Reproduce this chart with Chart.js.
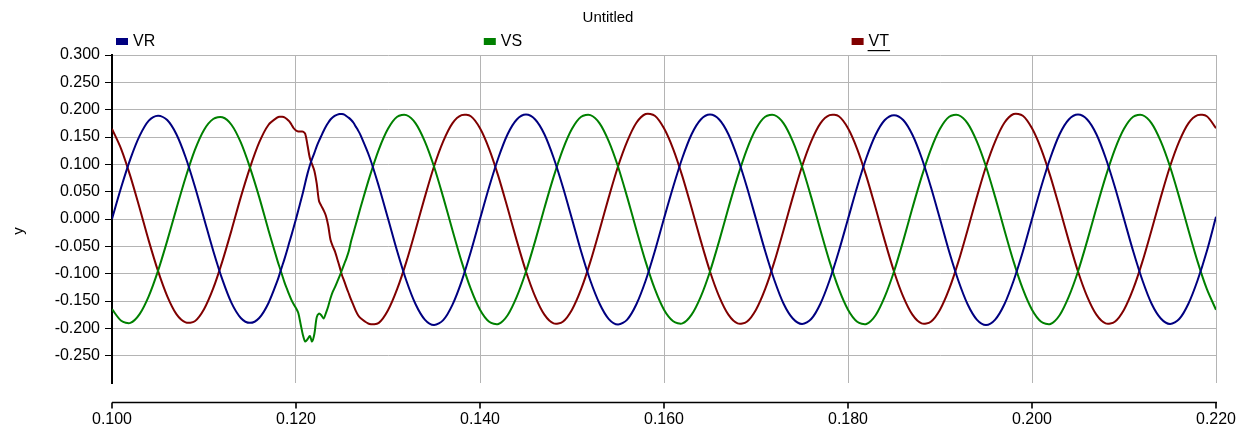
<!DOCTYPE html>
<html>
<head>
<meta charset="utf-8">
<script src="https://cdn.jsdelivr.net/npm/chart.js@4.4.1/dist/chart.umd.min.js"></script>
<style>
html,body{margin:0;padding:0;background:#fff;}
#wrap{width:1236px;height:427px;}
</style>
</head>
<body>
<div id="wrap"><canvas id="c" width="1236" height="427"></canvas></div>
<script>
// ---- data (time in seconds) ----
const times = [
0.100,0.101,0.102,0.103,0.104,0.105,0.106,0.107,0.108,0.109,0.110,0.111,0.112,0.113,0.114,0.115,0.116,0.117,
0.118,0.11825,0.1185,0.11875,0.119,0.11925,0.1195,0.11975,0.120,0.12025,0.1205,0.12075,0.121,0.12125,0.1215,0.12175,0.122,0.12225,0.1225,0.12275,0.123,0.12325,0.1235,0.12375,0.124,0.12425,0.1245,0.12475,0.125,0.12525,0.1255,0.12575,0.126,0.12625,0.1265,0.12675,0.127,
0.128,0.129,0.130,0.131,0.132,0.133,0.134,0.135,0.136,0.137,0.138,0.139,0.140,0.141,0.142,0.143,0.144,0.145,0.146,0.147,0.148,0.149,
0.150,0.151,0.152,0.153,0.154,0.155,0.156,0.157,0.158,0.159,0.160,0.161,0.162,0.163,0.164,0.165,0.166,0.167,0.168,0.169,
0.170,0.171,0.172,0.173,0.174,0.175,0.176,0.177,0.178,0.179,0.180,0.181,0.182,0.183,0.184,0.185,0.186,0.187,0.188,0.189,
0.190,0.191,0.192,0.193,0.194,0.195,0.196,0.197,0.198,0.199,0.200,0.201,0.202,0.203,0.204,0.205,0.206,0.207,0.208,0.209,
0.210,0.211,0.212,0.213,0.214,0.215,0.216,0.217,0.218,0.219,0.220
];

const vr = [
0.000,0.058,0.110,0.152,0.180,0.189,0.181,0.155,0.113,0.060,0.001,-0.058,-0.111,-0.154,-0.181,-0.190,-0.181,-0.154,
-0.112,-0.099,-0.086,-0.073,-0.059,-0.044,-0.030,-0.015,0.000,0.016,0.032,0.048,0.066,0.083,0.098,0.110,0.121,0.133,0.143,0.152,0.161,0.169,0.176,0.182,0.186,0.189,0.191,0.192,0.192,0.191,0.188,0.185,0.181,0.176,0.169,0.162,0.154,
0.113,0.060,0.001,-0.059,-0.113,-0.156,-0.184,-0.194,-0.185,-0.157,-0.114,-0.060,0.000,0.059,0.112,0.155,0.182,0.191,0.182,0.155,0.112,0.059,
0.000,-0.060,-0.113,-0.155,-0.183,-0.193,-0.184,-0.156,-0.113,-0.059,0.001,0.059,0.112,0.155,0.182,0.191,0.182,0.155,0.112,0.059,
0.000,-0.059,-0.112,-0.155,-0.182,-0.192,-0.183,-0.155,-0.112,-0.059,0.000,0.059,0.112,0.154,0.181,0.190,0.181,0.154,0.112,0.059,
0.000,-0.060,-0.113,-0.156,-0.184,-0.194,-0.184,-0.156,-0.113,-0.060,0.000,0.059,0.112,0.155,0.182,0.191,0.182,0.155,0.112,0.059,
0.000,-0.059,-0.112,-0.155,-0.182,-0.192,-0.183,-0.155,-0.112,-0.059,0.004
];

const vs = [
-0.165,-0.186,-0.190,-0.174,-0.141,-0.095,-0.040,0.019,0.076,0.126,0.163,0.183,0.186,0.172,0.140,0.094,0.040,-0.020,
-0.077,-0.090,-0.103,-0.116,-0.127,-0.138,-0.148,-0.156,-0.163,-0.172,-0.192,-0.212,-0.224,-0.220,-0.214,-0.224,-0.210,-0.180,-0.173,-0.176,-0.182,-0.172,-0.160,-0.145,-0.133,-0.124,-0.114,-0.104,-0.093,-0.082,-0.071,-0.058,-0.040,-0.025,-0.010,0.005,0.020,
0.077,0.127,0.165,0.187,0.190,0.175,0.142,0.096,0.040,-0.020,-0.078,-0.128,-0.166,-0.188,-0.192,-0.176,-0.142,-0.096,-0.040,0.020,0.077,0.127,
0.165,0.187,0.190,0.175,0.142,0.096,0.040,-0.020,-0.078,-0.128,-0.166,-0.187,-0.191,-0.175,-0.142,-0.096,-0.040,0.020,0.077,0.127,
0.165,0.187,0.190,0.175,0.142,0.096,0.040,-0.020,-0.078,-0.128,-0.166,-0.188,-0.192,-0.176,-0.142,-0.096,-0.040,0.020,0.077,0.127,
0.165,0.187,0.190,0.175,0.142,0.096,0.040,-0.020,-0.078,-0.128,-0.166,-0.188,-0.192,-0.176,-0.142,-0.096,-0.040,0.020,0.077,0.127,
0.165,0.187,0.190,0.175,0.142,0.096,0.040,-0.020,-0.078,-0.128,-0.166
];

const vt = [
0.165,0.128,0.078,0.020,-0.040,-0.095,-0.141,-0.174,-0.189,-0.187,-0.165,-0.127,-0.077,-0.020,0.040,0.094,0.140,0.172,
0.186,0.187,0.187,0.186,0.183,0.179,0.173,0.166,0.162,0.160,0.160,0.160,0.156,0.135,0.112,0.100,0.088,0.065,0.033,0.024,0.016,0.006,-0.012,-0.038,-0.050,-0.060,-0.074,-0.088,-0.103,-0.114,-0.126,-0.137,-0.148,-0.158,-0.168,-0.176,-0.181,
-0.192,-0.190,-0.167,-0.128,-0.078,-0.020,0.040,0.096,0.142,0.175,0.190,0.188,0.166,0.128,0.078,0.020,-0.040,-0.096,-0.142,-0.175,-0.191,-0.188,
-0.166,-0.128,-0.078,-0.020,0.040,0.096,0.142,0.176,0.192,0.189,0.166,0.128,0.078,0.020,-0.040,-0.096,-0.142,-0.175,-0.191,-0.188,
-0.166,-0.128,-0.078,-0.020,0.040,0.096,0.142,0.175,0.190,0.188,0.166,0.128,0.078,0.020,-0.040,-0.096,-0.142,-0.175,-0.191,-0.188,
-0.166,-0.128,-0.078,-0.020,0.040,0.096,0.142,0.176,0.192,0.189,0.166,0.128,0.078,0.020,-0.040,-0.096,-0.142,-0.175,-0.191,-0.188,
-0.166,-0.128,-0.078,-0.020,0.040,0.096,0.142,0.175,0.190,0.188,0.166
];

const seriesNames = ['VR', 'VS', 'VT'];
const seriesColors = ['#000080', '#008000', '#800000'];
const chartTitle = 'Untitled';
const yAxisTitle = 'y';
const xMin = 0.100, xMax = 0.220, xStep = 0.020;
const yMin = -0.300, yMax = 0.300, yStep = 0.050;

// ---- chart ----
const FONT = '"Liberation Sans", Arial, sans-serif';
Chart.defaults.font.family = FONT;
Chart.defaults.color = '#000';

const GRID = '#b4b4b4';
const CLEAR = 'rgba(0,0,0,0)';

const decor = {
  id: 'decor',
  afterDraw(chart) {
    const { ctx, chartArea: a, scales: { x } } = chart;
    ctx.save();
    // detached x axis line with ticks
    const axY = a.bottom + 19.5;
    ctx.strokeStyle = '#000';
    ctx.lineWidth = 1.6;
    ctx.beginPath();
    ctx.moveTo(x.left, axY);
    ctx.lineTo(x.right + 1, axY);
    x.ticks.forEach(t => {
      const px = Math.round(x.getPixelForValue(t.value));
      ctx.moveTo(px, axY);
      ctx.lineTo(px, axY + 6);
    });
    ctx.stroke();

    // legend (three spread columns)
    ctx.font = '16px ' + FONT;
    ctx.textBaseline = 'middle';
    ctx.textAlign = 'left';
    chart.data.datasets.forEach((ds, i) => {
      const bx = a.left + 4 + i * 367.8;
      ctx.fillStyle = ds.borderColor;
      ctx.fillRect(bx, 38, 12, 7);
      ctx.fillStyle = '#000';
      const tx = bx + 17;
      ctx.fillText(ds.label, tx, 42);
      if (i === chart.data.datasets.length - 1) {
        const w = ctx.measureText(ds.label).width;
        ctx.fillRect(tx - 1, 50, w + 2, 1.2);
      }
    });

    // y axis title
    ctx.translate(19, 231);
    ctx.rotate(-Math.PI / 2);
    ctx.textAlign = 'center';
    ctx.font = '15px ' + FONT;
    ctx.fillText(yAxisTitle, 0, 0);
    ctx.restore();
  }
};

const pts = vals => times.map((t, i) => ({ x: t, y: vals[i] }));

new Chart(document.getElementById('c'), {
  type: 'line',
  data: {
    datasets: [vr, vs, vt].map((v, i) => ({
      label: seriesNames[i],
      data: pts(v),
      borderColor: seriesColors[i],
      backgroundColor: seriesColors[i],
      borderWidth: 2,
      pointRadius: 0,
      tension: 0.3,
      fill: false
    }))
  },
  options: {
    responsive: false,
    animation: false,
    layout: { padding: { left: 0, right: 20, top: 0, bottom: 0 } },
    plugins: {
      legend: { display: false },
      tooltip: { enabled: false },
      title: {
        display: true,
        text: chartTitle,
        color: '#000',
        font: { size: 15, weight: 'normal', family: FONT },
        padding: { top: 9, bottom: 28 }
      }
    },
    scales: {
      x: {
        type: 'linear',
        min: xMin,
        max: xMax,
        ticks: {
          stepSize: xStep,
          autoSkip: false,
          maxRotation: 0,
          font: { size: 16 },
          color: '#000',
          padding: 27,
          callback: v => v.toFixed(3)
        },
        grid: {
          drawTicks: false,
          lineWidth: 1,
          color: c => (c.tick && Math.abs(c.tick.value - xMin) < 1e-9) ? CLEAR : GRID
        },
        border: { display: false },
        afterFit: s => { s.height = 44; s.paddingLeft = 0; s.paddingRight = 0; }
      },
      y: {
        min: yMin,
        max: yMax,
        ticks: {
          stepSize: yStep,
          font: { size: 16 },
          color: '#000',
          padding: 5,
          callback: v => (v < yMin + 1e-6) ? '' : v.toFixed(3)
        },
        grid: {
          lineWidth: 1,
          tickLength: 7,
          color: c => (c.tick && c.tick.value < yMin + 1e-6) ? CLEAR : GRID,
          tickColor: c => (c.tick && c.tick.value < yMin + 1e-6) ? CLEAR : '#000'
        },
        border: { display: true, color: '#000', width: 2 },
        afterFit: s => { s.width = 112; }
      }
    }
  },
  plugins: [decor]
});
</script>
</body>
</html>
